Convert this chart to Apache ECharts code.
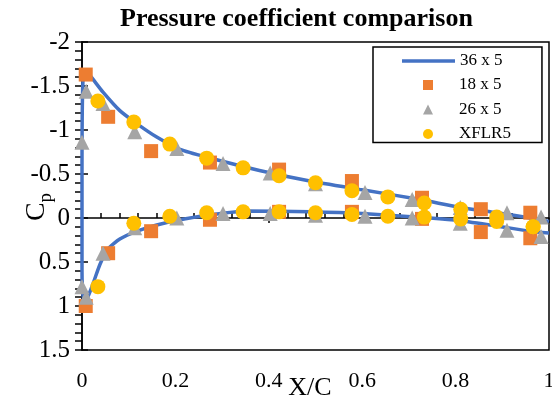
<!DOCTYPE html>
<html>
<head>
<meta charset="utf-8">
<script src="https://cdn.jsdelivr.net/npm/echarts@6/dist/echarts.min.js"></script>
<style>
html,body{margin:0;padding:0;background:#fff;}
#chart{width:552px;height:404px;}
</style>
</head>
<body>
<div id="chart"></div>
<script>
// ---- data ----
const xTicks = [0, 0.2, 0.4, 0.6, 0.8, 1];
const yTicks = [-2, -1.5, -1, -0.5, 0, 0.5, 1, 1.5];

// 36 x 5 : continuous line, upper surface TE -> LE, then lower surface LE -> TE
const xcLine = [1.0, 0.96, 0.888, 0.81, 0.724, 0.6, 0.488, 0.38, 0.268, 0.21, 0.16, 0.118, 0.081, 0.045, 0.02, 0.01, 0.002, 0.0, 0.0, 0.003, 0.012, 0.024, 0.039, 0.056, 0.081, 0.118, 0.16, 0.21, 0.28, 0.353, 0.488, 0.6, 0.745, 0.81, 0.888, 0.96, 1.0];
const cpLine = [0.04, 0.0, -0.06, -0.12, -0.21, -0.32, -0.42, -0.54, -0.69, -0.78, -0.92, -1.07, -1.22, -1.43, -1.6, -1.66, -1.55, -0.5, 0.6, 0.93, 0.9, 0.74, 0.52, 0.35, 0.24, 0.15, 0.08, 0.02, -0.04, -0.08, -0.07, -0.05, 0.0, 0.03, 0.09, 0.15, 0.17];

// 18 x 5
const xc18 = [0.008, 0.056, 0.148, 0.274, 0.422, 0.578, 0.728, 0.854, 0.96];
const cp18Upper = [-1.63, -1.15, -0.76, -0.63, -0.55, -0.42, -0.23, -0.10, -0.06];
const cp18Lower = [1.0, 0.40, 0.15, 0.02, -0.07, -0.07, 0.01, 0.16, 0.23];

// 26 x 5
const xc26 = [0, 0.009, 0.045, 0.113, 0.203, 0.302, 0.403, 0.5, 0.606, 0.707, 0.81, 0.91, 0.983];
const cp26Upper = [-0.86, -1.44, -1.30, -0.98, -0.79, -0.62, -0.51, -0.39, -0.29, -0.21, -0.12, -0.06, -0.01];
const cp26Lower = [0.78, 0.90, 0.40, 0.11, 0.0, -0.05, -0.05, -0.03, -0.02, 0.0, 0.06, 0.14, 0.21];

// XFLR5
const xcXF = [0.034, 0.111, 0.188, 0.267, 0.345, 0.422, 0.5, 0.578, 0.655, 0.733, 0.811, 0.888, 0.966];
const cpXFUpper = [-1.33, -1.09, -0.84, -0.68, -0.57, -0.48, -0.40, -0.31, -0.24, -0.17, -0.10, -0.01, 0.10];
const cpXFLower = [0.78, 0.06, -0.02, -0.06, -0.07, -0.07, -0.06, -0.04, -0.02, -0.01, 0.01, 0.04, 0.10];

const seriesNames = ['36 x 5', '18 x 5', '26 x 5', 'XFLR5'];
const titleText = 'Pressure coefficient comparison';

// ---- build ----
const pairs = (xs, ys) => xs.map((x, i) => [x, ys[i]]);
const both = (xs, up, lo) => pairs(xs, up).concat(pairs(xs, lo));

const FONT = 'Liberation Serif';
const chart = echarts.init(document.getElementById('chart'), null, {renderer: 'canvas'});

const xMin = xTicks[0], xMax = xTicks[xTicks.length - 1], xInt = xTicks[1] - xTicks[0];
const yMin = yTicks[0], yMax = yTicks[yTicks.length - 1], yInt = yTicks[1] - yTicks[0];

const baseX = {type: 'value', min: xMin, max: xMax, interval: xInt, position: 'bottom', splitLine: {show: false}};
const baseY = {type: 'value', min: yMin, max: yMax, interval: yInt, inverse: true, position: 'left', splitLine: {show: false}};

const legendText = {fontFamily: FONT, fontSize: 17, color: '#000'};

chart.setOption({
  animation: false,
  backgroundColor: '#fff',
  title: {
    text: titleText,
    left: 115, top: 1,
    textStyle: {fontFamily: FONT, fontWeight: 'bold', fontSize: 26, color: '#000'}
  },
  grid: {left: 82, right: 3, top: 42, bottom: 54, show: true, borderColor: '#000', borderWidth: 1.5, containLabel: false, outerBoundsMode: 'none'},
  legend: [
    {
      // box + marker items
      orient: 'vertical', left: 373, top: 47,
      padding: [29.5, 31, 0, 50],
      itemWidth: 10, itemHeight: 10, itemGap: 7.5,
      borderColor: '#000', borderWidth: 1.5, backgroundColor: '#fff',
      selectedMode: false, z: 4,
      textStyle: Object.assign({padding: [0, 0, 0, 21]}, legendText),
      data: seriesNames.slice(1)
    },
    {
      // line item
      orient: 'vertical', left: 402, top: 52.5, padding: 0,
      itemWidth: 53, itemHeight: 3.5,
      selectedMode: false, z: 6,
      textStyle: legendText,
      data: [{name: seriesNames[0], icon: 'rect'}]
    }
  ],
  xAxis: [
    Object.assign({}, baseX, {
      axisLine: {show: false, onZero: false},
      axisTick: {show: false},
      axisLabel: {fontFamily: FONT, fontSize: 22, color: '#000', margin: 20},
      name: 'X/C', nameLocation: 'middle', nameGap: 25, nameMoveOverlap: false,
      nameTextStyle: {fontFamily: FONT, fontSize: 26, color: '#000', padding: [0, 11, 0, 0]}
    }),
    Object.assign({}, baseX, {
      axisLine: {show: true, onZero: true, onZeroAxisIndex: 0, lineStyle: {color: '#000', width: 1.5}},
      axisTick: {show: true, inside: false, length: 5, lineStyle: {color: '#000', width: 1.5}},
      axisLabel: {show: false}
    }),
    Object.assign({}, baseX, {
      axisLine: {show: false, onZero: true, onZeroAxisIndex: 0},
      axisTick: {show: false, inside: true},
      minorTick: {show: true, splitNumber: 5, length: 5, lineStyle: {color: '#000', width: 1.5}},
      axisLabel: {show: false}
    })
  ],
  yAxis: [
    Object.assign({}, baseY, {
      axisLine: {show: true, onZero: false, lineStyle: {color: '#000', width: 1.5}},
      axisTick: {show: true, inside: false, length: 7, lineStyle: {color: '#000', width: 1.5}},
      minorTick: {show: true, splitNumber: 5, length: 7, lineStyle: {color: '#000', width: 1.5}},
      axisLabel: {fontFamily: FONT, fontSize: 25, color: '#000', margin: 12},
      name: '{c|C}{p|p}', nameLocation: 'middle', nameGap: 26, nameRotate: 90, nameMoveOverlap: false,
      nameTextStyle: {
        padding: [0, 22, 0, 0],
        rich: {
          c: {fontFamily: FONT, fontSize: 28, color: '#000', verticalAlign: 'bottom', padding: [0, 0, 5, 0]},
          p: {fontFamily: FONT, fontSize: 19, color: '#000', verticalAlign: 'bottom'}
        }
      }
    }),
    Object.assign({}, baseY, {
      axisLine: {show: false, onZero: false},
      axisTick: {show: true, inside: true, length: 6, lineStyle: {color: '#000', width: 1.5}},
      axisLabel: {show: false}
    })
  ],
  series: [
    {
      name: seriesNames[0], type: 'line', xAxisIndex: 0, yAxisIndex: 0,
      data: pairs(xcLine, cpLine), showSymbol: false, symbol: 'none', smooth: 0.2,
      lineStyle: {color: '#4472C4', width: 3.5}, itemStyle: {color: '#4472C4'}, z: 2
    },
    {
      name: seriesNames[1], type: 'scatter', xAxisIndex: 0, yAxisIndex: 0,
      data: both(xc18, cp18Upper, cp18Lower), symbol: 'rect', symbolSize: 14,
      itemStyle: {color: '#ED7D31', opacity: 1}, z: 3
    },
    {
      name: seriesNames[2], type: 'scatter', xAxisIndex: 0, yAxisIndex: 0,
      data: both(xc26, cp26Upper, cp26Lower), symbol: 'triangle', symbolSize: 15,
      itemStyle: {color: '#A5A5A5', opacity: 1}, z: 4
    },
    {
      name: seriesNames[3], type: 'scatter', xAxisIndex: 0, yAxisIndex: 0,
      data: both(xcXF, cpXFUpper, cpXFLower), symbol: 'circle', symbolSize: 15,
      itemStyle: {color: '#FFC000', opacity: 1}, z: 5
    }
  ]
});
</script>
</body>
</html>
